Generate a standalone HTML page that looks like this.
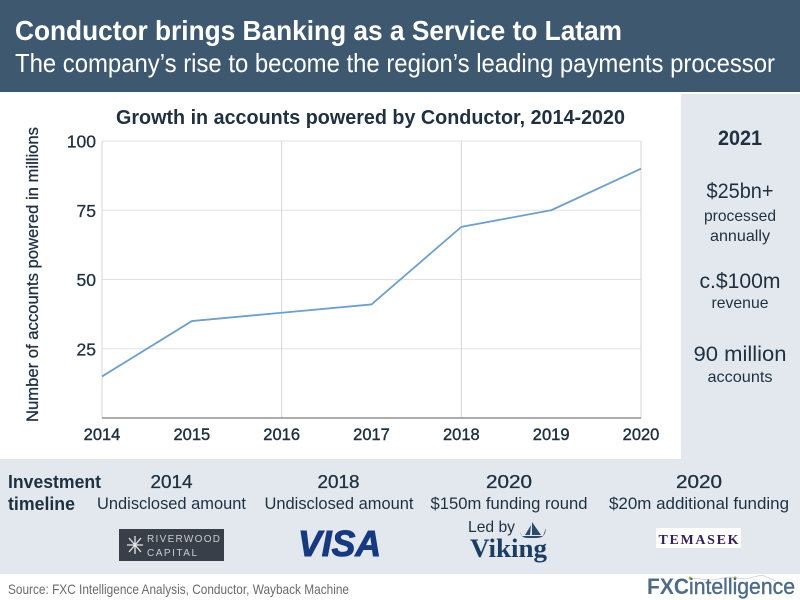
<!DOCTYPE html>
<html>
<head>
<meta charset="utf-8">
<title>Conductor brings Banking as a Service to Latam</title>
<style>
html,body{margin:0;padding:0;background:#fff}
svg{display:block;font-family:"Liberation Sans",sans-serif}
</style>
</head>
<body>
<svg id="chart" width="800" height="600" viewBox="0 0 800 600" xmlns="http://www.w3.org/2000/svg">
<rect width="800" height="600" fill="#fff"/>
<rect width="800" height="92" fill="#3e5870"/>
<text x="15" y="40" font-size="28" font-weight="700" fill="#fff" textLength="607" lengthAdjust="spacingAndGlyphs">Conductor brings Banking as a Service to Latam</text>
<text x="15" y="72" font-size="26" fill="#fff" textLength="760" lengthAdjust="spacingAndGlyphs">The company’s rise to become the region’s leading payments processor</text>

<rect x="681" y="94" width="119" height="366" fill="#e3e8ee"/>
<rect x="0" y="459" width="800" height="115" fill="#e3e8ee"/>

<text x="116" y="124" font-size="20" font-weight="700" fill="#1f3040" textLength="509" lengthAdjust="spacingAndGlyphs">Growth in accounts powered by Conductor, 2014-2020</text>
<text transform="translate(38,422) rotate(-90)" x="0" y="0" font-size="17" font-weight="400" stroke="#1f3040" stroke-width="0.3" fill="#1f3040" textLength="295" lengthAdjust="spacingAndGlyphs">Number of accounts powered in millions</text>
<g id="plot"></g>

<g text-anchor="middle" fill="#1f3040">
<text x="740" y="145" font-size="21" font-weight="700" textLength="44" lengthAdjust="spacingAndGlyphs">2021</text>
<text x="740" y="198" font-size="21" textLength="67" lengthAdjust="spacingAndGlyphs">$25bn+</text>
<text x="740" y="221" font-size="16" textLength="72" lengthAdjust="spacingAndGlyphs">processed</text>
<text x="740" y="241" font-size="16" textLength="60" lengthAdjust="spacingAndGlyphs">annually</text>
<text x="740" y="288" font-size="21" textLength="81" lengthAdjust="spacingAndGlyphs">c.$100m</text>
<text x="740" y="308" font-size="16" textLength="57" lengthAdjust="spacingAndGlyphs">revenue</text>
<text x="740" y="361" font-size="21" textLength="93" lengthAdjust="spacingAndGlyphs">90 million</text>
<text x="740" y="382" font-size="16" textLength="65" lengthAdjust="spacingAndGlyphs">accounts</text>
</g>

<g fill="#1f3040">
<text x="8" y="488" font-size="18" font-weight="700" textLength="93" lengthAdjust="spacingAndGlyphs">Investment</text>
<text x="8" y="510" font-size="18" font-weight="700" textLength="67" lengthAdjust="spacingAndGlyphs">timeline</text>
<g text-anchor="middle">
<text x="171.500" y="488" font-size="18" stroke="#1f3040" stroke-width="0.3" textLength="42" lengthAdjust="spacingAndGlyphs">2014</text>
<text x="171.500" y="509" font-size="17" textLength="149" lengthAdjust="spacingAndGlyphs">Undisclosed amount</text>
<text x="338.500" y="488" font-size="18" stroke="#1f3040" stroke-width="0.3" textLength="42" lengthAdjust="spacingAndGlyphs">2018</text>
<text x="339" y="509" font-size="17" textLength="149" lengthAdjust="spacingAndGlyphs">Undisclosed amount</text>
<text x="509" y="488" font-size="18" stroke="#1f3040" stroke-width="0.3" textLength="46" lengthAdjust="spacingAndGlyphs">2020</text>
<text x="509" y="509" font-size="17" textLength="157" lengthAdjust="spacingAndGlyphs">$150m funding round</text>
<text x="699" y="488" font-size="18" stroke="#1f3040" stroke-width="0.3" textLength="46" lengthAdjust="spacingAndGlyphs">2020</text>
<text x="699" y="509" font-size="17" textLength="180" lengthAdjust="spacingAndGlyphs">$20m additional funding</text>
</g>
</g>

<g>
<rect x="119" y="529" width="105" height="32" fill="#383f48"/>
<path d="M127 545h16M135 536v18M129 538l12 14M141 538l-12 14" stroke="#e6e6e6" stroke-width="1.300" fill="none"/>
<text x="147" y="542" font-size="10" fill="#c9ccd0" textLength="73" lengthAdjust="spacing">RIVERWOOD</text>
<text x="147" y="556" font-size="10" fill="#c9ccd0" textLength="50" lengthAdjust="spacing">CAPITAL</text>
</g>
<text x="298" y="556" font-size="36" font-weight="700" font-style="italic" fill="#17397f" stroke="#17397f" stroke-width="1" textLength="83" lengthAdjust="spacingAndGlyphs">VISA</text>

<g>
<text x="468" y="532" font-size="16" fill="#1f3040" textLength="47" lengthAdjust="spacingAndGlyphs">Led by</text>
<path d="M532 522 L541 535 L532 535Z M531 525 L525 535 L530 535Z" fill="#2d4a6b"/>
<path d="M520 532 C522 539 526 538 534 538 C542 538 545 537 546 528 L543 536 L522 536Z" fill="#2d4a6b"/>
<text x="470" y="557" font-family="Liberation Serif, serif" font-size="26" font-weight="700" fill="#1c3d63" textLength="77" lengthAdjust="spacingAndGlyphs">Viking</text>
</g>

<g>
<rect x="656" y="528" width="85" height="20" fill="#fff"/>
<text x="698.500" y="544" text-anchor="middle" font-family="Liberation Serif, serif" font-size="14" font-weight="700" fill="#35205c" textLength="80" lengthAdjust="spacing">TEMASEK</text>
</g>

<text x="8" y="594" font-size="14" fill="#6a6a6a" textLength="341" lengthAdjust="spacingAndGlyphs">Source: FXC Intelligence Analysis, Conductor, Wayback Machine</text>

<g>
<path d="M690 578 L712 580 L730 577 L745 579 L762 575 L776 581" fill="none" stroke="#c9ced4" stroke-width="0.8"/>
<circle cx="690" cy="578" r="1.500" fill="#a9c23f"/>
<circle cx="735" cy="578" r="1.500" fill="#a9c23f"/>
<circle cx="735" cy="578" r="1.500" fill="#a9c23f"/>
<text x="647" y="594" font-size="22" font-weight="700" fill="#4f6c87" textLength="42" lengthAdjust="spacingAndGlyphs">FXC</text>
<text x="689" y="594" font-size="22" font-weight="400" stroke="#4f6c87" stroke-width="0.4" fill="#4f6c87" textLength="106" lengthAdjust="spacingAndGlyphs">intelligence</text>
</g>
</svg>

<script>
var categories = ["2014", "2015", "2016", "2017", "2018", "2019", "2020"];
var accountsMillions = [15, 35, 38, 41, 69, 75, 90];
var yTickValues = [25, 50, 75, 100];
var yTickLabels = ["25", "50", "75", "100"];
var xGridYears = ["2014", "2016", "2018", "2020"];

var NS = "http://www.w3.org/2000/svg";
var plot = document.getElementById("plot");
var left = 102, right = 641, top_ = 141, bottom = 418;
function xScale(i) { return left + (right - left) * i / (categories.length - 1); }
function yScale(v) { return bottom - (bottom - top_) * v / 100; }
function make(tag, attrs) {
  var el = document.createElementNS(NS, tag);
  for (var k in attrs) { el.setAttribute(k, attrs[k]); }
  plot.appendChild(el);
  return el;
}

yTickValues.forEach(function (v, i) {
  var grid = make("line", { x1: left, x2: right, y1: yScale(v), y2: yScale(v), stroke: "#e2e2e2", "stroke-width": 1 });
  
  
  var label = make("text", { x: 96, y: yScale(v) + 6.500, "text-anchor": "end", "font-size": 17.500, fill: "#1f3040", stroke: "#1f3040", "stroke-width": 0.3 });
  label.textContent = yTickLabels[i];
  
  
});

xGridYears.forEach(function (year) {
  var x = xScale(categories.indexOf(year));
  var grid = make("line", { x1: x, x2: x, y1: top_, y2: bottom, stroke: "#d6d6d6", "stroke-width": 1 });
  
  
});

var axis = make("line", { x1: left, x2: right, y1: bottom, y2: bottom, stroke: "#7c7c7c", "stroke-width": 1.200 });



categories.forEach(function (year, i) {
  var label = make("text", { x: xScale(i), y: 440, "text-anchor": "middle", "font-size": 16.500, fill: "#1f3040", stroke: "#1f3040", "stroke-width": 0.4 });
  label.textContent = year;
  
  
});

var points = accountsMillions.map(function (v, i) { return xScale(i) + "," + yScale(v); }).join(" ");
var line = make("polyline", { points: points, fill: "none", stroke: "#6f9fcb", "stroke-width": 1.800, "stroke-linejoin": "round" });


</script>
</body>
</html>
